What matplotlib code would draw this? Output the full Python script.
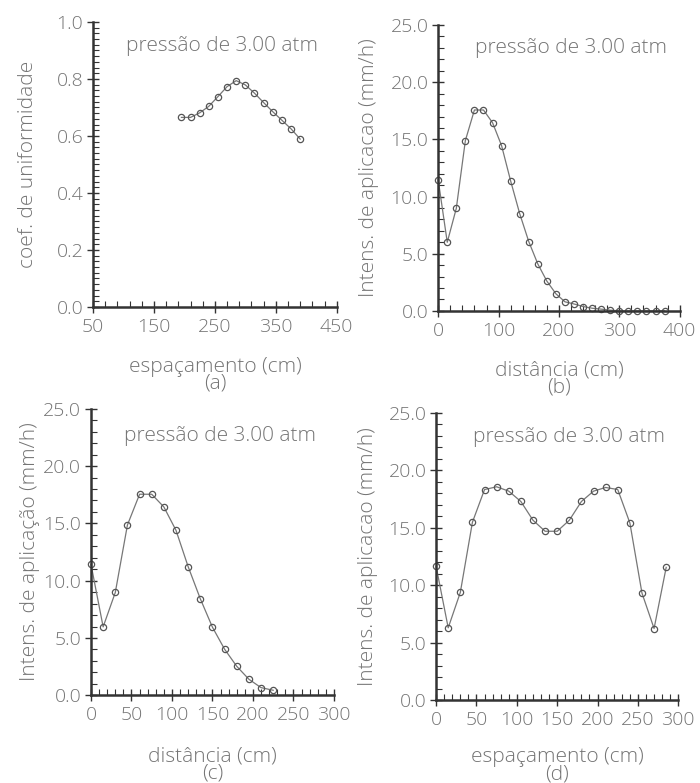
import numpy as np
import matplotlib
matplotlib.use('Agg')
import matplotlib.pyplot as plt
from matplotlib import font_manager
from matplotlib.ticker import FixedLocator, FormatStrFormatter

# (a) coef. de uniformidade vs espacamento
esp_a = [195, 210, 225, 240, 255, 270, 285, 300, 315, 330, 345, 360, 375, 390]
cu_a = [0.665, 0.665, 0.681, 0.704, 0.738, 0.773, 0.794, 0.779, 0.750,
        0.717, 0.685, 0.655, 0.625, 0.589]

# (b) intensidade vs distancia (perfil radial completo)
dist_b = list(range(0, 390, 15))
int_b = [11.45, 6.0, 8.97, 14.9, 17.57, 17.57, 16.46, 14.45, 11.36, 8.5,
         6.06, 4.1, 2.6, 1.49, 0.79, 0.6, 0.38, 0.23, 0.15, 0.06,
         0.0, 0.0, 0.0, 0.0, 0.0, 0.0]

# (c) intensidade vs distancia (ate 225 cm)
dist_c = list(range(0, 240, 15))
int_c = [11.42, 5.97, 8.97, 14.86, 17.54, 17.54, 16.43, 14.39, 11.22, 8.42,
         5.94, 4.02, 2.53, 1.40, 0.67, 0.44]

# (d) intensidade vs espacamento (sobreposicao)
esp_d = list(range(0, 300, 15))
int_d = [11.63, 6.28, 9.36, 15.47, 18.31, 18.55, 18.17, 17.27, 15.64, 14.68,
         14.68, 15.64, 17.27, 18.17, 18.49, 18.31, 15.41, 9.30, 6.22, 11.54]

titulo = 'pressão de 3.00 atm'
txt = '#747474'
axc = '#333333'

# a thin font looks closer to the plotter lettering
fam, wt = 'DejaVu Sans', 'normal'
for f in ['Open Sans', 'Lato', 'Roboto']:
    try:
        p = font_manager.findfont(font_manager.FontProperties(family=f, weight='light'),
                                  fallback_to_default=False)
        if 'light' in p.lower():
            fam, wt = f, 'light'
            break
    except ValueError:
        pass
plt.rcParams['font.family'] = [fam, 'DejaVu Sans']
plt.rcParams['font.weight'] = wt
plt.rcParams['axes.labelweight'] = wt

fig = plt.figure(figsize=(7, 7.83), dpi=100)


def painel(rect, x, y, xt, xm, yt, ym, xlabel, ylabel, ylab_x, xlab_y, tpos):
    ax = fig.add_axes(rect)
    ax.plot(x, y, color='#777777', lw=0.9, marker='o', ms=4.5,
            mfc='none', mec='#555555', mew=0.9, clip_on=False)
    ax.set_xlim(xt[0], xt[-1])
    ax.set_ylim(yt[0], yt[-1])
    for s in ['top', 'right']:
        ax.spines[s].set_visible(False)
    for s in ['left', 'bottom']:
        ax.spines[s].set_linewidth(1.8)
        ax.spines[s].set_color(axc)
    ax.xaxis.set_major_locator(FixedLocator(xt))
    ax.xaxis.set_minor_locator(FixedLocator(xm))
    ax.yaxis.set_major_locator(FixedLocator(yt))
    ax.yaxis.set_minor_locator(FixedLocator(ym))
    ax.yaxis.set_major_formatter(FormatStrFormatter('%.1f'))
    ax.tick_params(which='major', direction='inout', length=8, width=1,
                   color=axc, labelcolor=txt, labelsize=14)
    ax.tick_params(axis='x', which='major', pad=4)
    ax.tick_params(axis='y', which='major', pad=3)
    ax.tick_params(which='minor', direction='in', length=4, width=0.8,
                   color=axc)
    ax.set_xlabel(xlabel, color=txt, fontsize=15, linespacing=0.8,
                  fontweight=wt)
    ax.set_ylabel(ylabel, color=txt, fontsize=15, fontweight=wt)
    ax.yaxis.set_label_coords(ylab_x, 0.5)
    ax.xaxis.set_label_coords(0.5, xlab_y)
    ax.text(tpos[0], tpos[1], titulo, transform=ax.transAxes, ha='center',
            va='center', color=txt, fontsize=15, fontweight=wt)
    ax.patch.set_visible(False)
    return ax


t25 = [0, 5, 10, 15, 20, 25]
m25 = np.arange(0, 25.01, 1)

painel([0.133, 0.608, 0.348, 0.364], esp_a, cu_a,
       [50, 150, 250, 350, 450], np.arange(50, 451, 20),
       [0, 0.2, 0.4, 0.6, 0.8, 1.0], np.arange(0, 1.001, 0.02),
       'espaçamento (cm)\n(a)', 'coef. de uniformidade',
       -0.225, -0.175, (0.53, 0.916))
painel([0.626, 0.603, 0.345, 0.365], dist_b, int_b,
       [0, 100, 200, 300, 400], np.arange(0, 401, 20), t25, m25,
       'distância (cm)\n(b)', 'Intens. de aplicacao (mm/h)',
       -0.245, -0.175, (0.55, 0.92))
painel([0.130, 0.112, 0.347, 0.366], dist_c, int_c,
       [0, 50, 100, 150, 200, 250, 300], np.arange(0, 301, 10), t25, m25,
       'distância (cm)\n(c)', 'Intens. de aplicação (mm/h)',
       -0.21, -0.18, (0.53, 0.906))
painel([0.623, 0.106, 0.346, 0.367], esp_d, int_d,
       [0, 50, 100, 150, 200, 250, 300], np.arange(0, 301, 10), t25, m25,
       'espaçamento (cm)\n(d)', 'Intens. de aplicacao (mm/h)',
       -0.24, -0.165, (0.55, 0.916))

fig.savefig('out.png', dpi=100, facecolor='white')
